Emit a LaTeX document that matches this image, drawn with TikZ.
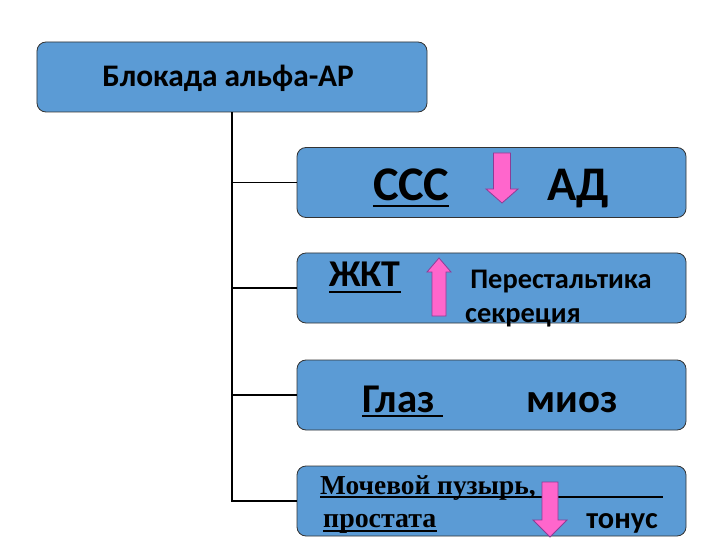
\documentclass[tikz,border=0pt]{standalone}
\usepackage{fontspec}
\setmainfont{Carlito}
\newfontfamily\timesfont{Liberation Serif}
\usetikzlibrary{
	calc,
	positioning,
}
\definecolor{boxblue}{RGB}{91,155,213}
\definecolor{arrowpink}{RGB}{255,102,204}
\definecolor{arrowedge}{RGB}{140,60,150}
\newcommand{\fs}[1]{\fontsize{#1}{#1}\selectfont\bfseries}
\tikzset{box/.style={draw=black!80,fill=boxblue,rounded corners=9bp,line width=0.8bp,minimum width=389bp,minimum height=70bp,inner sep=0mm,}}
\tikzset{txt/.style={anchor=base,inner sep=0mm,}}
\tikzset{wire/.style={draw=black,line width=1.6bp,}}
\tikzset{uline/.style={draw=black,line width=2.4bp,}}
\tikzset{pinkarrow/.style={draw=arrowedge,fill=arrowpink,line width=0.8bp,line join=miter,}}

\begin{document}
\begin{tikzpicture}[x=1bp,y=-1bp]
\useasboundingbox (0,0) rectangle (720,540);

\node[box,minimum width=390bp] (top) at (232,77) {};
\node[box] (b1) at (491.5,182.5) {};
\node[box] (b2) at (491.5,288) {};
\node[box] (b3) at (491.5,395) {};
\node[box] (b4) at (491.5,501) {};

\draw[wire] (top.south) |- (b4.west);
\draw[wire] (top.south |- b1.west) -- (b1.west);
\draw[wire] (top.south |- b2.west) -- (b2.west);
\draw[wire] (top.south |- b3.west) -- (b3.west);

\node[txt,font=\fs{31.5}] (blk) at (228,87) {Блокада альфа-АР};

% ССС
\node[txt,font=\fs{48.5}] (ccc) at (411,201) {ССС};
\node[txt,font=\fs{48.5}] (ad) at (578,201) {АД};
\draw[uline] ($(ccc.base west)+(0,5)$) -- ($(ccc.base east)+(0,5)$);

% ЖКТ
\node[txt,font=\fs{38}] (gkt) at (365,287) {ЖКТ};
\node[txt,font=\fs{28.5}] (per) at (561,288) {Перестальтика};
\node[txt,font=\fs{28.5}] (sek) at (523,322) {секреция};
\draw[uline] ($(gkt.base west)+(0,5)$) -- ($(gkt.base east)+(0,5)$);

% Глаз
\node[txt,font=\fs{41},anchor=base west] (eye) at (362,412) {Глаз};
\node[txt,font=\fs{41}] (mioz) at (572,412) {миоз};
\draw[uline] ($(eye.base west)+(0,4)$) -- ($(eye.base east)+(8,4)$);

% Мочевой пузырь
\node[txt,font=\timesfont\fs{27.5},anchor=base west] (mp) at (320,494) {Мочевой пузырь,};
\node[txt,font=\timesfont\fs{28},anchor=base west] (pr) at (323,527) {простата};
\node[txt,font=\fs{30.5}] (ton) at (622,528) {тонус};
\draw[uline,line width=2bp] ($(mp.base west)+(0,3)$) -- (663,497);
\draw[uline,line width=2bp] ($(pr.base west)+(0,4)$) -- ($(pr.base east)+(0,4)$);

\draw[pinkarrow] (493.5,153) -- (510.5,153) -- (510.5,189) -- (518,189) -- (502,203) -- (486,189) -- (493.5,189) -- cycle;
\draw[pinkarrow] (439,258) -- (451,272) -- (446,272) -- (446,316) -- (432,316) -- (432,272) -- (427,272) -- cycle;
\draw[pinkarrow] (542,482) -- (558,482) -- (558,520) -- (567,520) -- (550,537) -- (533,520) -- (542,520) -- cycle;

\end{tikzpicture}
\end{document}
